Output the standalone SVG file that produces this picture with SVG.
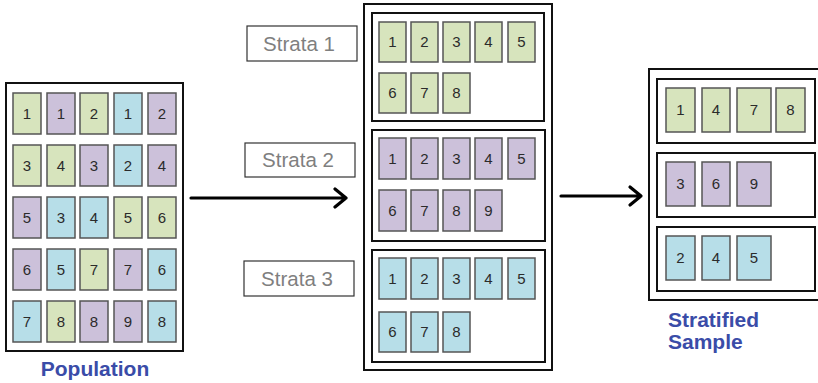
<svg xmlns="http://www.w3.org/2000/svg" width="818" height="383" viewBox="0 0 818 383">
  <style>
    .frame { fill: #ffffff; stroke: #111111; stroke-width: 2; }
    .card { stroke: #555555; stroke-width: 1.5; }
    .g { fill: #d7e4bd; }
    .p { fill: #ccc1da; }
    .b { fill: #b7dee8; }
    .num { font-family: "Liberation Sans", Arial, sans-serif; font-size: 15px; fill: #2b2b2b; text-anchor: middle; }
    .tag { fill: #ffffff; stroke: #333333; stroke-width: 1.2; }
    .tagtxt { font-family: "Liberation Sans", Arial, sans-serif; font-size: 20.5px; fill: #7f7f7f; text-anchor: middle; }
    .title { font-family: "Liberation Sans", Arial, sans-serif; font-size: 21px; font-weight: bold; fill: #3a4ca8; }
    .conn { stroke: #000000; stroke-width: 3.2; fill: none; stroke-linecap: round; stroke-linejoin: round; }
  </style>

  <rect width="818" height="383" fill="#ffffff"/>

  <!-- Population: 5 x 5 grid of mixed cards -->
  <g id="population">
    <rect class="frame" x="6" y="83" width="177" height="268"/>
    <g>
      <rect class="card g" x="13" y="93" width="28" height="41"/><text class="num" x="27" y="119">1</text>
      <rect class="card p" x="47" y="93" width="28" height="41"/><text class="num" x="61" y="119">1</text>
      <rect class="card g" x="80" y="93" width="28" height="41"/><text class="num" x="94" y="119">2</text>
      <rect class="card b" x="114" y="93" width="28" height="41"/><text class="num" x="128" y="119">1</text>
      <rect class="card p" x="148" y="93" width="28" height="41"/><text class="num" x="162" y="119">2</text>

      <rect class="card g" x="13" y="145" width="28" height="41"/><text class="num" x="27" y="171">3</text>
      <rect class="card g" x="47" y="145" width="28" height="41"/><text class="num" x="61" y="171">4</text>
      <rect class="card p" x="80" y="145" width="28" height="41"/><text class="num" x="94" y="171">3</text>
      <rect class="card b" x="114" y="145" width="28" height="41"/><text class="num" x="128" y="171">2</text>
      <rect class="card p" x="148" y="145" width="28" height="41"/><text class="num" x="162" y="171">4</text>

      <rect class="card p" x="13" y="197" width="28" height="41"/><text class="num" x="27" y="223">5</text>
      <rect class="card b" x="47" y="197" width="28" height="41"/><text class="num" x="61" y="223">3</text>
      <rect class="card b" x="80" y="197" width="28" height="41"/><text class="num" x="94" y="223">4</text>
      <rect class="card g" x="114" y="197" width="28" height="41"/><text class="num" x="128" y="223">5</text>
      <rect class="card g" x="148" y="197" width="28" height="41"/><text class="num" x="162" y="223">6</text>

      <rect class="card p" x="13" y="249" width="28" height="41"/><text class="num" x="27" y="275">6</text>
      <rect class="card b" x="47" y="249" width="28" height="41"/><text class="num" x="61" y="275">5</text>
      <rect class="card g" x="80" y="249" width="28" height="41"/><text class="num" x="94" y="275">7</text>
      <rect class="card p" x="114" y="249" width="28" height="41"/><text class="num" x="128" y="275">7</text>
      <rect class="card b" x="148" y="249" width="28" height="41"/><text class="num" x="162" y="275">6</text>

      <rect class="card b" x="13" y="301" width="28" height="41"/><text class="num" x="27" y="327">7</text>
      <rect class="card g" x="47" y="301" width="28" height="41"/><text class="num" x="61" y="327">8</text>
      <rect class="card p" x="80" y="301" width="28" height="41"/><text class="num" x="94" y="327">8</text>
      <rect class="card p" x="114" y="301" width="28" height="41"/><text class="num" x="128" y="327">9</text>
      <rect class="card b" x="148" y="301" width="28" height="41"/><text class="num" x="162" y="327">8</text>
    </g>
    <text class="title" x="95" y="376" text-anchor="middle">Population</text>
  </g>

  <!-- Strata labels -->
  <g id="label-strata-1">
    <rect class="tag" x="247" y="26" width="110" height="35"/>
    <text class="tagtxt" x="299" y="51">Strata 1</text>
  </g>
  <g id="label-strata-2">
    <rect class="tag" x="245" y="143" width="110" height="34"/>
    <text class="tagtxt" x="298" y="167">Strata 2</text>
  </g>
  <g id="label-strata-3">
    <rect class="tag" x="244" y="261" width="110" height="35"/>
    <text class="tagtxt" x="297" y="286">Strata 3</text>
  </g>

  <!-- Strata: cards grouped by colour -->
  <g id="strata">
    <rect class="frame" x="364" y="4" width="188" height="366"/>

    <g id="strata-1">
      <rect class="frame" x="372" y="13" width="172" height="108"/>
      <rect class="card g" x="379" y="22" width="27" height="40"/><text class="num" x="392.5" y="47">1</text>
      <rect class="card g" x="411" y="22" width="27" height="40"/><text class="num" x="424.5" y="47">2</text>
      <rect class="card g" x="443" y="22" width="27" height="40"/><text class="num" x="456.5" y="47">3</text>
      <rect class="card g" x="475" y="22" width="27" height="40"/><text class="num" x="488.5" y="47">4</text>
      <rect class="card g" x="508" y="22" width="27" height="40"/><text class="num" x="521.5" y="47">5</text>
      <rect class="card g" x="379" y="73" width="27" height="40"/><text class="num" x="392.5" y="98">6</text>
      <rect class="card g" x="411" y="73" width="27" height="40"/><text class="num" x="424.5" y="98">7</text>
      <rect class="card g" x="443" y="73" width="27" height="40"/><text class="num" x="456.5" y="98">8</text>
    </g>

    <g id="strata-2">
      <rect class="frame" x="372" y="130" width="173" height="111"/>
      <rect class="card p" x="379" y="138" width="27" height="41"/><text class="num" x="392.5" y="164">1</text>
      <rect class="card p" x="411" y="138" width="27" height="41"/><text class="num" x="424.5" y="164">2</text>
      <rect class="card p" x="443" y="138" width="27" height="41"/><text class="num" x="456.5" y="164">3</text>
      <rect class="card p" x="475" y="138" width="27" height="41"/><text class="num" x="488.5" y="164">4</text>
      <rect class="card p" x="508" y="138" width="27" height="41"/><text class="num" x="521.5" y="164">5</text>
      <rect class="card p" x="379" y="190" width="27" height="41"/><text class="num" x="392.5" y="216">6</text>
      <rect class="card p" x="411" y="190" width="27" height="41"/><text class="num" x="424.5" y="216">7</text>
      <rect class="card p" x="443" y="190" width="27" height="41"/><text class="num" x="456.5" y="216">8</text>
      <rect class="card p" x="475" y="190" width="27" height="41"/><text class="num" x="488.5" y="216">9</text>
    </g>

    <g id="strata-3">
      <rect class="frame" x="372" y="250" width="173" height="112"/>
      <rect class="card b" x="379" y="258" width="27" height="41"/><text class="num" x="392.5" y="284">1</text>
      <rect class="card b" x="411" y="258" width="27" height="41"/><text class="num" x="424.5" y="284">2</text>
      <rect class="card b" x="443" y="258" width="27" height="41"/><text class="num" x="456.5" y="284">3</text>
      <rect class="card b" x="475" y="258" width="27" height="41"/><text class="num" x="488.5" y="284">4</text>
      <rect class="card b" x="508" y="258" width="27" height="41"/><text class="num" x="521.5" y="284">5</text>
      <rect class="card b" x="379" y="312" width="27" height="40"/><text class="num" x="392.5" y="337">6</text>
      <rect class="card b" x="411" y="312" width="27" height="40"/><text class="num" x="424.5" y="337">7</text>
      <rect class="card b" x="443" y="312" width="27" height="40"/><text class="num" x="456.5" y="337">8</text>
    </g>
  </g>

  <!-- Stratified sample -->
  <g id="sample">
    <rect class="frame" x="649" y="69" width="180" height="231"/>

    <g id="sample-1">
      <rect class="frame" x="657" y="79" width="158" height="64"/>
      <rect class="card g" x="666" y="88" width="29" height="44"/><text class="num" x="680.5" y="115">1</text>
      <rect class="card g" x="702" y="88" width="28" height="44"/><text class="num" x="716" y="115">4</text>
      <rect class="card g" x="737" y="88" width="34" height="44"/><text class="num" x="754" y="115">7</text>
      <rect class="card g" x="776" y="88" width="29" height="44"/><text class="num" x="790.5" y="115">8</text>
    </g>

    <g id="sample-2">
      <rect class="frame" x="657" y="153" width="158" height="64"/>
      <rect class="card p" x="666" y="162" width="29" height="44"/><text class="num" x="680.5" y="189">3</text>
      <rect class="card p" x="702" y="162" width="28" height="44"/><text class="num" x="716" y="189">6</text>
      <rect class="card p" x="737" y="162" width="34" height="44"/><text class="num" x="754" y="189">9</text>
    </g>

    <g id="sample-3">
      <rect class="frame" x="657" y="227" width="158" height="64"/>
      <rect class="card b" x="666" y="236" width="29" height="44"/><text class="num" x="680.5" y="263">2</text>
      <rect class="card b" x="702" y="236" width="28" height="44"/><text class="num" x="716" y="263">4</text>
      <rect class="card b" x="737" y="236" width="34" height="44"/><text class="num" x="754" y="263">5</text>
    </g>

    <text class="title" x="668" y="327">Stratified</text>
    <text class="title" x="668" y="349">Sample</text>
  </g>

  <!-- Connectors -->
  <g id="connectors">
    <path class="conn" d="M191 198 H346 M335 189 L346 198 L335 207"/>
    <path class="conn" d="M561 196 H641 M630 187 L641 196 L630 205"/>
  </g>
</svg>
